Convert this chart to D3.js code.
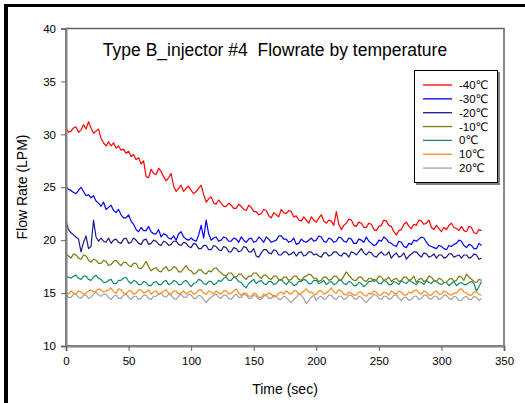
<!DOCTYPE html>
<html>
<head>
<meta charset="utf-8">
<script src="https://cdn.jsdelivr.net/npm/d3@7"></script>
<style>
  html, body { margin: 0; padding: 0; background: #fff; }
  svg { display: block; font-family: Arial, "Liberation Sans", "DejaVu Sans", sans-serif; }
</style>
</head>
<body>
<div id="chart"></div>
<script>
  // time stamps (sec)
  var times = [
    0, 2, 4, 6, 8, 10, 12, 14, 16, 18,
    20, 22, 24, 26, 28, 30, 32, 34, 36, 38,
    40, 42, 44, 46, 48, 50, 52, 54, 56, 58,
    60, 62, 64, 66, 68, 70, 72, 74, 76, 78,
    80, 82, 84, 86, 88, 90, 92, 94, 96, 98,
    100, 102, 104, 106, 108, 110, 112, 114, 116, 118,
    120, 122, 124, 126, 128, 130, 132, 134, 136, 138,
    140, 142, 144, 146, 148, 150, 152, 154, 156, 158,
    160, 162, 164, 166, 168, 170, 172, 174, 176, 178,
    180, 182, 184, 186, 188, 190, 192, 194, 196, 198,
    200, 202, 204, 206, 208, 210, 212, 214, 216, 218,
    220, 222, 224, 226, 228, 230, 232, 234, 236, 238,
    240, 242, 244, 246, 248, 250, 252, 254, 256, 258,
    260, 262, 264, 266, 268, 270, 272, 274, 276, 278,
    280, 282, 284, 286, 288, 290, 292, 294, 296, 298,
    300, 302, 304, 306, 308, 310, 312, 314, 316, 318,
    320, 322, 324, 326, 328, 330, 332
  ];

  var temps = ['-40℃', '-30℃', '-20℃', '-10℃', '0℃', '10℃', '20℃'];
  var colors = ['#ff0000', '#0000ff', '#1a1a8a', '#7a7a10', '#108a6a', '#ff8c1a', '#a0a0a0'];

  var m40 = [
    30.6, 30.2, 30.3, 30.6, 30.7, 30.2, 30.4, 30.9, 30.5, 31.2,
    30.6, 30.1, 30.3, 30.5, 29.6, 29.2, 28.9, 29.3, 28.9, 29.2,
    28.7, 28.9, 28.5, 28.6, 28.2, 28.4, 27.9, 28.1, 27.6, 27.8,
    27.2, 27.5, 26.0, 25.9, 26.7, 26.3, 26.2, 26.8, 26.5, 26.0,
    25.6, 25.9, 26.3, 25.1, 24.6, 24.9, 25.2, 24.6, 24.9, 25.1,
    24.7, 24.4, 24.6, 24.9, 25.2, 24.3, 23.6, 23.9, 24.1, 23.5,
    23.4, 23.8, 23.5, 23.2, 23.2, 23.5, 23.3, 23.0, 23.0, 23.4,
    23.2, 22.9, 22.8, 23.3, 23.1, 22.7, 22.7, 22.4, 22.5, 22.9,
    22.8, 22.3, 22.1, 22.6, 22.4, 22.2, 22.9, 22.6, 22.5, 22.8,
    22.7, 22.2, 22.3, 21.9, 21.8, 22.2, 21.9, 21.6, 22.2, 21.9,
    21.7, 22.1, 22.4, 21.8, 21.6, 21.9, 21.8, 21.4, 22.7, 21.5,
    21.0, 21.4, 21.6, 22.0, 21.9, 21.4, 21.3, 21.7, 21.6, 21.2,
    21.2, 21.6, 21.5, 21.0, 20.9, 21.3, 21.4, 21.9, 21.8, 21.4,
    21.3, 20.8, 20.5, 20.9, 21.0, 21.5, 21.7, 21.3, 21.1, 21.5,
    21.4, 21.9, 21.8, 21.5, 21.6, 21.9, 21.2, 21.0, 21.4, 21.1,
    20.8, 21.2, 21.0, 21.4, 21.6, 21.2, 21.1, 20.9, 21.3, 20.9,
    20.8, 21.3, 21.2, 20.7, 20.6, 21.0, 20.9
  ];
  var m30 = [
    25.0, 24.8, 24.7, 24.5, 24.4, 24.7, 25.0, 24.6, 24.2, 24.3,
    24.0, 24.2, 23.7, 23.5, 23.2, 23.6, 22.9, 23.1, 23.3, 22.8,
    22.6, 22.9, 22.4, 22.1, 22.1, 22.4, 21.8, 21.5, 21.0, 20.8,
    21.2, 20.9, 20.9, 21.3, 20.8, 20.6, 20.6, 21.0, 20.3, 20.6,
    20.5, 20.2, 20.1, 20.4, 20.0, 20.6, 20.8, 20.3, 20.1, 20.0,
    20.2, 20.0, 19.9, 20.5, 21.4, 20.2, 21.9, 20.6, 20.0, 20.2,
    20.3, 19.9, 20.0, 20.3, 20.2, 19.9, 19.9, 20.2, 20.1, 19.8,
    20.3, 20.0, 19.8, 20.1, 20.2, 19.8, 19.9, 20.3, 20.1, 19.8,
    20.3, 20.1, 19.8, 19.9, 20.0, 20.4, 20.4, 20.1, 20.1, 19.8,
    19.9, 20.2, 19.6, 19.7, 20.1, 19.9, 19.8, 20.0, 20.2, 19.9,
    20.0, 20.4, 20.3, 19.9, 19.8, 20.2, 20.1, 19.8, 19.9, 20.3,
    20.2, 19.9, 19.8, 20.2, 20.1, 19.7, 19.7, 20.1, 20.0, 19.8,
    20.3, 19.9, 19.7, 19.5, 19.6, 20.0, 19.9, 20.3, 20.1, 19.8,
    19.7, 19.5, 19.4, 19.9, 19.8, 19.4, 19.3, 19.7, 19.6, 20.0,
    19.9, 20.1, 20.3, 20.2, 19.8, 19.5, 19.4, 19.3, 19.2, 19.5,
    19.4, 19.2, 19.1, 19.5, 19.4, 19.6, 19.7, 20.0, 19.9, 19.5,
    19.3, 19.6, 19.5, 19.2, 19.2, 19.7, 19.5
  ];
  var m20 = [
    21.8, 21.0, 20.7, 20.5, 20.3, 20.1, 18.9, 19.8, 20.4, 19.2,
    19.4, 21.9, 20.3, 19.9, 20.2, 19.9, 19.8, 20.2, 19.7, 20.0,
    20.1, 19.8, 19.7, 20.1, 20.2, 19.7, 19.8, 20.2, 20.0, 19.7,
    19.6, 20.0, 20.1, 19.6, 19.7, 20.0, 19.9, 19.6, 19.5, 19.9,
    19.8, 19.5, 19.6, 19.9, 19.9, 19.6, 19.5, 19.8, 19.7, 19.4,
    19.3, 19.7, 19.6, 19.2, 19.2, 19.5, 19.5, 19.1, 19.1, 19.5,
    19.4, 19.1, 19.0, 19.4, 19.3, 18.9, 18.9, 19.3, 19.2, 18.9,
    19.0, 19.4, 19.3, 18.9, 18.9, 19.2, 18.5, 18.4, 18.8, 19.1,
    19.1, 18.8, 18.7, 19.1, 19.0, 18.6, 18.6, 18.9, 18.9, 18.6,
    18.7, 18.9, 18.5, 18.8, 18.9, 18.5, 18.6, 18.9, 18.9, 18.6,
    18.7, 18.5, 18.4, 18.8, 18.8, 18.5, 18.6, 18.9, 18.9, 18.6,
    18.5, 18.8, 18.7, 18.4, 18.9, 18.8, 18.6, 18.9, 19.2, 18.8,
    18.6, 18.9, 18.8, 18.5, 18.4, 18.7, 18.9, 18.6, 18.6, 18.9,
    18.3, 18.6, 18.8, 18.4, 18.5, 18.8, 18.2, 18.5, 18.7, 18.9,
    18.9, 18.6, 18.4, 18.8, 18.7, 18.4, 18.5, 18.7, 18.3, 18.6,
    18.6, 18.3, 18.4, 18.7, 18.7, 18.4, 18.5, 18.6, 18.3, 18.6,
    18.6, 18.3, 18.4, 18.7, 18.6, 18.2, 18.3
  ];
  var m10 = [
    18.7, 18.5, 18.3, 18.7, 18.6, 18.3, 18.2, 18.6, 18.5, 18.1,
    17.9, 18.2, 18.1, 17.8, 17.8, 18.1, 18.0, 17.6, 17.7, 18.0,
    18.1, 17.8, 17.6, 17.9, 17.9, 17.6, 17.5, 17.8, 17.8, 17.4,
    17.3, 17.6, 18.0, 17.5, 17.1, 17.3, 17.4, 17.1, 17.0, 17.3,
    17.5, 17.1, 17.2, 17.5, 17.4, 17.0, 17.0, 17.3, 17.6, 17.2,
    17.1, 16.8, 16.9, 17.2, 17.2, 16.9, 16.8, 17.1, 17.0, 17.3,
    17.4, 17.1, 16.9, 16.7, 16.6, 16.9, 16.9, 16.6, 16.5, 16.8,
    16.8, 16.5, 16.3, 16.6, 16.6, 16.9, 16.9, 16.6, 16.4, 16.7,
    16.7, 16.4, 16.3, 16.6, 16.6, 16.3, 16.2, 16.5, 16.5, 16.2,
    16.3, 16.6, 16.6, 16.3, 16.2, 16.5, 16.6, 16.8, 16.7, 16.4,
    16.4, 16.1, 16.2, 16.5, 16.5, 16.2, 16.3, 16.6, 16.6, 16.3,
    16.2, 16.6, 17.0, 16.7, 16.4, 16.2, 16.2, 16.5, 16.5, 16.2,
    16.1, 16.4, 16.4, 16.1, 16.2, 16.6, 16.5, 16.2, 16.3, 16.5,
    16.1, 16.3, 16.4, 16.1, 16.2, 16.5, 16.5, 16.2, 16.3, 16.6,
    16.0, 16.3, 16.4, 16.1, 16.2, 16.6, 16.5, 16.2, 16.1, 16.4,
    16.3, 16.0, 16.0, 16.3, 16.4, 16.1, 16.2, 16.6, 16.5, 16.2,
    16.8, 16.5, 16.3, 16.1, 16.0, 16.3, 16.2
  ];
  var p0 = [
    16.6, 16.5, 16.4, 16.6, 16.7, 16.4, 16.3, 16.6, 16.6, 16.3,
    16.2, 16.5, 16.7, 16.4, 16.3, 16.0, 16.0, 16.2, 16.3, 15.9,
    15.9, 16.2, 16.2, 16.4, 16.5, 16.1, 15.9, 16.2, 16.1, 15.8,
    15.8, 16.1, 16.0, 15.7, 15.7, 16.0, 16.1, 15.8, 15.8, 16.1,
    16.2, 15.8, 15.9, 16.2, 16.1, 15.8, 15.8, 16.1, 16.2, 15.9,
    15.6, 15.9, 16.0, 16.3, 16.2, 15.9, 15.8, 16.1, 16.1, 15.8,
    15.9, 16.2, 16.1, 16.4, 16.5, 16.2, 16.2, 16.5, 16.4, 16.1,
    16.0, 15.7, 15.5, 15.9, 16.1, 16.3, 15.9, 16.1, 16.2, 15.9,
    15.8, 16.1, 16.1, 15.8, 15.9, 16.2, 16.3, 16.0, 15.8, 16.1,
    16.0, 15.7, 15.8, 16.1, 16.1, 16.3, 16.2, 15.9, 15.9, 16.2,
    16.2, 15.9, 16.0, 16.2, 15.8, 16.0, 16.1, 15.8, 15.9, 16.2,
    16.2, 15.9, 15.8, 16.1, 16.0, 15.7, 15.7, 16.0, 15.9, 15.6,
    15.8, 16.1, 16.1, 16.3, 16.2, 15.9, 15.9, 16.2, 16.1, 15.8,
    15.8, 16.1, 16.0, 15.8, 16.2, 16.0, 15.9, 16.2, 16.1, 15.9,
    15.8, 16.1, 16.0, 15.8, 16.2, 16.0, 15.9, 16.2, 16.1, 15.9,
    15.8, 16.0, 16.0, 15.7, 15.9, 16.1, 15.7, 15.9, 16.0, 15.8,
    15.8, 16.0, 16.1, 15.9, 15.2, 15.6, 16.1
  ];
  var p10 = [
    15.1, 14.9, 15.2, 15.0, 14.9, 15.2, 15.1, 14.9, 15.0, 15.2,
    15.3, 15.1, 15.2, 15.4, 15.3, 15.1, 15.2, 15.3, 15.5, 15.1,
    15.0, 15.4, 15.3, 15.0, 14.9, 15.2, 15.2, 14.9, 15.0, 15.3,
    15.3, 15.0, 15.1, 15.3, 14.9, 15.1, 15.2, 14.9, 15.0, 15.2,
    15.3, 15.0, 14.9, 15.2, 15.2, 14.9, 15.0, 15.2, 14.9, 15.1,
    15.2, 14.9, 15.0, 15.3, 15.3, 15.0, 14.9, 15.2, 15.1, 14.9,
    15.2, 15.0, 14.9, 15.2, 15.2, 14.9, 15.0, 15.2, 15.4, 15.0,
    14.8, 15.0, 15.0, 14.7, 14.7, 15.0, 14.9, 14.6, 14.6, 14.9,
    14.8, 15.0, 14.9, 14.6, 14.7, 15.0, 15.1, 14.9, 15.2, 15.0,
    14.9, 15.2, 15.2, 14.9, 15.0, 15.2, 15.4, 15.1, 15.1, 14.9,
    14.9, 15.2, 15.2, 14.9, 15.0, 15.2, 15.5, 15.1, 15.0, 15.3,
    15.2, 14.9, 14.8, 15.1, 15.0, 14.8, 14.8, 15.1, 15.1, 14.8,
    14.7, 15.0, 14.9, 15.2, 15.1, 14.8, 14.8, 15.1, 15.0, 14.8,
    15.2, 15.0, 14.9, 15.2, 15.1, 14.8, 14.8, 15.1, 15.0, 15.2,
    15.3, 15.0, 14.9, 15.2, 15.1, 14.8, 14.8, 15.1, 15.2, 14.9,
    14.9, 15.2, 15.1, 14.9, 14.8, 15.0, 15.0, 15.3, 15.4, 15.1,
    15.0, 14.8, 14.8, 15.1, 15.1, 14.9, 14.8
  ];
  var p20 = [
    14.8, 14.6, 14.6, 14.9, 14.9, 14.6, 14.5, 14.8, 14.8, 14.5,
    14.6, 14.9, 15.1, 14.8, 14.7, 14.9, 14.9, 14.6, 14.4, 14.7,
    14.8, 14.5, 14.5, 14.8, 14.9, 14.6, 14.4, 14.7, 14.7, 14.4,
    14.5, 14.8, 14.8, 14.5, 14.4, 14.7, 14.7, 14.9, 15.0, 14.7,
    14.6, 14.9, 14.8, 14.5, 14.4, 14.7, 14.9, 14.6, 14.6, 14.9,
    14.8, 14.5, 14.5, 14.8, 14.7, 14.4, 14.1, 14.4, 14.6, 14.8,
    14.9, 14.6, 14.5, 14.8, 14.8, 14.5, 14.4, 14.7, 14.9, 14.6,
    14.6, 14.9, 14.8, 14.5, 14.5, 14.8, 14.7, 14.4, 14.4, 14.7,
    14.8, 14.5, 14.5, 14.8, 14.7, 14.4, 14.4, 14.7, 14.6, 14.3,
    14.1, 14.4, 14.6, 14.9, 14.8, 14.5, 14.0, 14.3, 14.6, 14.8,
    14.3, 14.6, 14.7, 14.4, 14.5, 14.8, 14.8, 14.5, 14.4, 14.7,
    14.7, 14.4, 14.5, 14.8, 14.8, 14.5, 14.4, 14.7, 14.6, 14.3,
    14.1, 14.4, 14.6, 14.9, 14.8, 14.5, 14.4, 14.7, 14.7, 14.4,
    14.5, 14.8, 14.8, 14.5, 14.3, 14.6, 14.6, 14.3, 14.4, 14.7,
    14.7, 14.4, 14.5, 14.8, 14.8, 14.5, 14.4, 14.7, 14.7, 14.4,
    14.5, 14.8, 14.8, 14.5, 14.4, 14.7, 14.6, 14.3, 14.3, 14.6,
    14.7, 14.4, 14.4, 14.7, 14.6, 14.3, 14.5
  ];

  var xTicks = [0, 50, 100, 150, 200, 250, 300, 350];
  var yTicks = [10, 15, 20, 25, 30, 35, 40];

  var series = [m40, m30, m20, m10, p0, p10, p20];

  function createChart() {
    var W = 525, H = 403;
    var margin = { top: 28.5, right: 21, bottom: 57, left: 66 };
    var width = W - margin.left - margin.right;
    var height = H - margin.top - margin.bottom;

    var svg = d3.select('#chart')
      .append('svg')
      .attr('width', W)
      .attr('height', H);

    // outer frame (top + left only visible)
    svg.append('line')
      .attr('x1', 4).attr('x2', W).attr('y1', 5.5).attr('y2', 5.5)
      .attr('stroke', '#000').attr('stroke-width', 3);
    svg.append('line')
      .attr('x1', 6).attr('x2', 6).attr('y1', 4).attr('y2', H)
      .attr('stroke', '#000').attr('stroke-width', 4);

    var g = svg.append('g')
      .attr('transform', 'translate(' + margin.left + ',' + margin.top + ')');

    var x = d3.scaleLinear().domain([0, 350]).range([0, width]);
    var y = d3.scaleLinear().domain([10, 40]).range([height, 0]);

    // plot frame
    g.append('rect')
      .attr('x', 0).attr('y', 0)
      .attr('width', width).attr('height', height)
      .attr('fill', 'none')
      .attr('stroke', '#606060')
      .attr('stroke-width', 1.5);

    var line = d3.line()
      .x(function (d, i) { return x(times[i]); })
      .y(function (d) { return y(d); });

    // draw from last to first so red sits on top
    for (var s = series.length - 1; s >= 0; s--) {
      g.append('path')
        .datum(series[s])
        .attr('fill', 'none')
        .attr('stroke', colors[s])
        .attr('stroke-width', 1.2)
        .attr('stroke-linejoin', 'round')
        .attr('d', line);
    }

    var yAxis = g.append('g')
      .call(d3.axisLeft(y).tickValues(yTicks).tickSize(5).tickPadding(5));
    var xAxis = g.append('g')
      .attr('transform', 'translate(0,' + height + ')')
      .call(d3.axisBottom(x).tickValues(xTicks).tickSize(5).tickPadding(6));

    [yAxis, xAxis].forEach(function (ax) {
      ax.select('.domain').attr('stroke', '#808080').attr('stroke-width', 2);
      ax.selectAll('.tick line').attr('stroke', '#606060').attr('stroke-width', 1);
      ax.selectAll('.tick text')
        .style('font-size', '11.5px')
        .style('font-family', 'Arial, "Liberation Sans", sans-serif')
        .attr('fill', '#000');
    });

    // title
    svg.append('text')
      .attr('x', 275)
      .attr('y', 56)
      .attr('text-anchor', 'middle')
      .style('font-size', '17.5px')
      .attr('xml:space', 'preserve')
      .style('white-space', 'pre')
      .text('Type B_injector #4  Flowrate by temperature');

    // axis titles
    svg.append('text')
      .attr('transform', 'translate(27,187) rotate(-90)')
      .attr('text-anchor', 'middle')
      .style('font-size', '14px')
      .text('Flow Rate (LPM)');

    svg.append('text')
      .attr('x', 285)
      .attr('y', 394)
      .attr('text-anchor', 'middle')
      .style('font-size', '14px')
      .text('Time (sec)');

    // legend
    var lg = svg.append('g').attr('transform', 'translate(414,70)');
    lg.append('rect')
      .attr('x', 2).attr('y', 2).attr('width', 84).attr('height', 113)
      .attr('fill', '#808080');
    lg.append('rect')
      .attr('x', 0.5).attr('y', 0.5).attr('width', 83).attr('height', 112)
      .attr('fill', '#fff').attr('stroke', '#000').attr('stroke-width', 1);

    var items = lg.selectAll('.item')
      .data(temps)
      .enter()
      .append('g')
      .attr('transform', function (d, i) { return 'translate(0,' + (15 + i * 13.85) + ')'; });

    items.append('line')
      .attr('x1', 9).attr('x2', 38)
      .attr('y1', 0).attr('y2', 0)
      .attr('stroke', function (d, i) { return colors[i]; })
      .attr('stroke-width', 1.3);

    items.append('text')
      .attr('x', 45)
      .attr('dy', '0.35em')
      .style('font-size', '11.5px')
      .text(function (d) { return d; });
  }

  createChart();
</script>
</body>
</html>
